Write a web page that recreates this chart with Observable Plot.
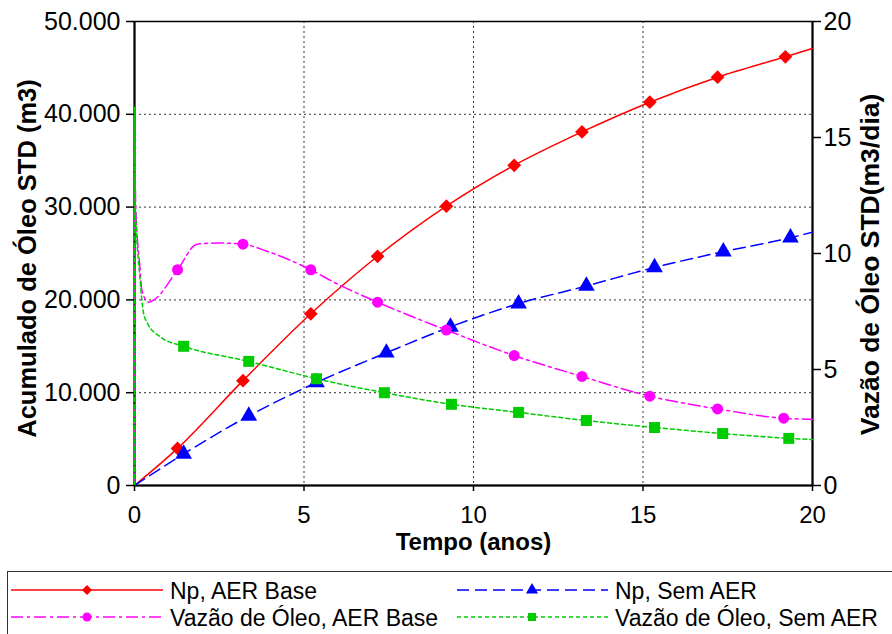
<!DOCTYPE html>
<html>
<head>
<meta charset="utf-8">
<script src="https://cdn.jsdelivr.net/npm/d3@7"></script>
<script src="https://cdn.jsdelivr.net/npm/@observablehq/plot@0.6"></script>
<style>
  html, body { margin: 0; padding: 0; background: #fff; overflow: hidden; }
  #chart { width: 892px; }
  #legend { display: block; margin-top: 5px; }
</style>
</head>
<body>
<div id="chart"></div>
<svg id="legend" width="892" height="63"></svg>
<script>
// ---------- data ----------
const xTicks = [0, 5, 10, 15, 20];
const leftTicks = [0, 10000, 20000, 30000, 40000, 50000];
const rightTicks = [0, 5, 10, 15, 20];
const xTitle = "Tempo (anos)";
const leftTitle = "Acumulado de Óleo STD (m3)";
const rightTitle = "Vazão de Óleo STD(m3/dia)";

const seriesNames = ["Np, AER Base", "Np, Sem AER", "Vazão de Óleo, AER Base", "Vazão de Óleo, Sem AER"];

// Np, AER Base (left axis, m3)
const npBaseT = [0, 1.27, 3.2, 5.2, 7.17, 9.2, 11.2, 13.2, 15.2, 17.2, 19.2, 20];
const npBaseV = [0, 4000, 11300, 18500, 24700, 30100, 34500, 38100, 41300, 44000, 46200, 47100];
const npBaseMarkT = [1.27, 3.2, 5.2, 7.17, 9.2, 11.2, 13.2, 15.2, 17.2, 19.2];
const npBaseMarkV = [4000, 11300, 18500, 24700, 30100, 34500, 38100, 41300, 44000, 46200];

// Np, Sem AER (left axis, m3)
const npSemT = [0, 1.45, 3.37, 5.37, 7.43, 9.32, 11.33, 13.33, 15.34, 17.37, 19.35, 20];
const npSemV = [0, 3400, 7500, 11100, 14300, 17100, 19600, 21500, 23500, 25200, 26700, 27300];
const npSemMarkT = [1.45, 3.37, 5.37, 7.43, 9.32, 11.33, 13.33, 15.34, 17.37, 19.35];
const npSemMarkV = [3400, 7500, 11100, 14300, 17100, 19600, 21500, 23500, 25200, 26700];

// Vazão de Óleo, AER Base (right axis, m3/dia)
const qBaseT = [0, 0.005, 0.03, 0.16, 0.22, 0.42, 0.62, 1.27, 1.85, 2.45, 3.2, 3.9, 5.2, 5.9, 7.17, 9.2, 11.2, 13.2, 15.2, 17.2, 19.15, 20];
const qBaseV = [0, 16.3, 12.3, 9.4, 8.4, 7.9, 8.05, 9.3, 10.4, 10.45, 10.4, 10.1, 9.3, 8.75, 7.9, 6.7, 5.6, 4.7, 3.85, 3.3, 2.9, 2.85];
const qBaseMarkT = [1.27, 3.2, 5.2, 7.17, 9.2, 11.2, 13.2, 15.2, 17.2, 19.15];
const qBaseMarkV = [9.3, 10.4, 9.3, 7.9, 6.7, 5.6, 4.7, 3.85, 3.3, 2.9];

// Vazão de Óleo, Sem AER (right axis, m3/dia)
const qSemT = [0, 0.005, 0.03, 0.06, 0.15, 0.27, 0.38, 0.77, 1.45, 3.37, 5.37, 7.37, 9.35, 11.33, 13.33, 15.34, 17.35, 19.3, 20];
const qSemV = [0, 16.3, 12, 10.9, 9.1, 7.4, 7.0, 6.4, 6.0, 5.35, 4.6, 4.0, 3.5, 3.15, 2.8, 2.5, 2.24, 2.03, 1.98];
const qSemMarkT = [1.45, 3.37, 5.37, 7.37, 9.35, 11.33, 13.33, 15.34, 17.35, 19.3];
const qSemMarkV = [6.0, 5.35, 4.6, 4.0, 3.5, 3.15, 2.8, 2.5, 2.24, 2.03];

// ---------- build ----------
const K = 50000 / 20; // right-axis value -> left-axis scale
const zip = (t, v, k = 1) => t.map((x, i) => ({t: x, v: v[i] * k}));

const styles = [
  {stroke: "#ff0000", dash: null, symbol: "diamond2", r: 6.2},
  {stroke: "#0000ff", dash: "12,6", symbol: "triangle", r: 6.2},
  {stroke: "#ff00ff", dash: "12,4,3,4", symbol: "circle", r: 5.5},
  {stroke: "#00cc00", dash: "4,3", symbol: "square", r: 6.2}
];
const lines = [zip(npBaseT, npBaseV), zip(npSemT, npSemV), zip(qBaseT, qBaseV, K), zip(qSemT, qSemV, K)];
const marks = [zip(npBaseMarkT, npBaseMarkV), zip(npSemMarkT, npSemMarkV), zip(qBaseMarkT, qBaseMarkV, K), zip(qSemMarkT, qSemMarkV, K)];

const locale = d3.formatLocale({decimal: ",", thousands: ".", grouping: [3], currency: ["", ""]});
const fmtLeft = locale.format(",");

const lineMarks = lines.map((d, i) => Plot.line(d, {
  x: "t", y: "v", stroke: styles[i].stroke, strokeWidth: 1.5,
  strokeDasharray: styles[i].dash, curve: "monotone-x"
}));
const dotMarks = marks.map((d, i) => Plot.dot(d, {
  x: "t", y: "v", symbol: styles[i].symbol, r: styles[i].r,
  fill: styles[i].stroke, stroke: "none"
}));

const chart = Plot.plot({
  width: 892,
  height: 566,
  marginLeft: 134,
  marginRight: 80,
  marginTop: 21,
  marginBottom: 81,
  style: {fontFamily: "'Liberation Sans', Arial, sans-serif", color: "black", background: "white"},
  x: {domain: [0, 20]},
  y: {domain: [0, 50000]},
  marks: [
    Plot.gridX([5, 10, 15], {stroke: "#333", strokeOpacity: 1, strokeDasharray: "2,3", strokeWidth: 1}),
    Plot.gridY([10000, 20000, 30000, 40000], {stroke: "#333", strokeOpacity: 1, strokeDasharray: "2,3", strokeWidth: 1}),
    Plot.frame({stroke: "black", strokeWidth: 1.5}),
    Plot.ruleX([0, 20], {stroke: "black", strokeWidth: 2}),
    Plot.ruleY([0], {stroke: "black", strokeWidth: 2}),
    ...lineMarks,
    ...dotMarks,
    Plot.axisX(xTicks, {tickSize: 6, tickPadding: 14, fontSize: 24, strokeWidth: 1.5, label: null}),
    Plot.axisY(leftTicks, {tickSize: 8, tickPadding: 6, fontSize: 25, strokeWidth: 1.5, tickFormat: fmtLeft, label: null}),
    Plot.axisY(rightTicks.map(v => v * K), {anchor: "right", tickSize: 8, tickPadding: 3, fontSize: 25, strokeWidth: 1.5, tickFormat: d => d / K, label: null}),
    Plot.text([xTitle], {text: d => d, frameAnchor: "bottom", textAnchor: "middle", lineAnchor: "middle", dy: 57, fontSize: 24, fontWeight: "bold"}),
    Plot.text([leftTitle], {text: d => d, frameAnchor: "left", textAnchor: "middle", lineAnchor: "middle", dx: -107, dy: 5, rotate: -90, fontSize: 25.5, fontWeight: "bold"}),
    Plot.text([rightTitle], {text: d => d, frameAnchor: "right", textAnchor: "middle", lineAnchor: "middle", dx: 58, dy: 11, rotate: -90, fontSize: 26.5, fontWeight: "bold"})
  ]
});
document.getElementById("chart").appendChild(chart);

// ---------- legend ----------
const lg = d3.select("#legend");
lg.append("rect").attr("x", 7.5).attr("y", 0.5).attr("width", 900).attr("height", 80)
  .attr("fill", "white").attr("stroke", "#333").attr("stroke-width", 1);
const pos = [[11, 163, 87, 19], [457, 608, 532, 19], [11, 163, 87, 46], [457, 608, 532, 46]];
const order = [0, 1, 2, 3];
order.forEach((si, k) => {
  const [x0, x1, xm, y] = pos[k];
  const s = styles[si];
  lg.append("line").attr("x1", x0).attr("x2", x1).attr("y1", y).attr("y2", y)
    .attr("stroke", s.stroke).attr("stroke-width", 1.5)
    .attr("stroke-dasharray", s.dash);
  const sym = {diamond2: d3.symbolDiamond2, triangle: d3.symbolTriangle, circle: d3.symbolCircle, square: d3.symbolSquare}[s.symbol];
  lg.append("path").attr("transform", `translate(${xm},${y})`)
    .attr("d", d3.symbol(sym, Math.PI * 4.5 * 4.5)())
    .attr("fill", s.stroke);
  lg.append("text").attr("x", x1 + 7).attr("y", y + 8.5)
    .attr("font-family", "'Liberation Sans', Arial, sans-serif").attr("font-size", 23)
    .attr("fill", "black").text(seriesNames[si]);
});
</script>
</body>
</html>
